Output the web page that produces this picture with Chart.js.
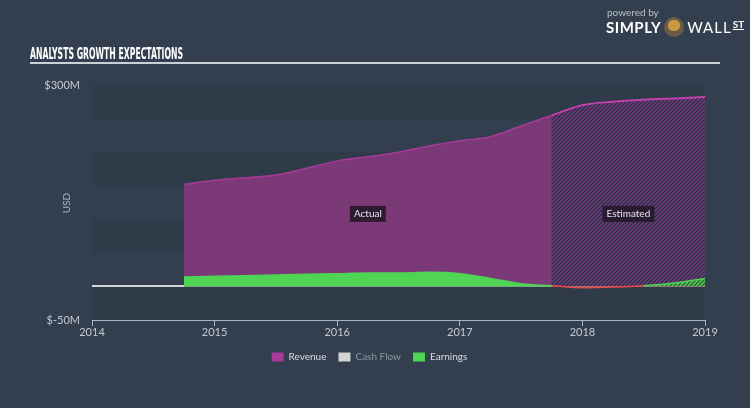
<!DOCTYPE html>
<html>
<head>
<meta charset="utf-8">
<script src="https://cdn.jsdelivr.net/npm/chart.js@4/dist/chart.umd.min.js"></script>
<style>
  html, body { margin: 0; padding: 0; background: #333f4e; }
  #wrap { position: relative; width: 750px; height: 408px; overflow: hidden; font-family: Lato, sans-serif; }
  #chart { position: absolute; left: 0; top: 0; }
  #title { position: absolute; left: 30px; top: 44px; color: #fff; white-space: nowrap;
           font: bold 16px 'Liberation Sans Narrow', 'DejaVu Sans Condensed', sans-serif; transform-origin: left top; }
  #rule { position: absolute; left: 30px; top: 62px; width: 690px; height: 2px; background: #c9d1d9; }
  #usd { position: absolute; left: 52px; top: 197px; width: 28px; text-align: center; color: #aab3bd; font-size: 10px;
         transform: rotate(-90deg); }
  #logo { position: absolute; left: 606px; top: 6px; color: #fff; }
  #logo .pb { font-size: 10px; color: #b9c1ca; margin-left: 1px; }
  #logo .row { display: flex; align-items: center; margin-top: -1px; }
  #logo .s { font-weight: bold; font-size: 15px; letter-spacing: 0.5px; }
  #logo .face { width: 20px; height: 20px; border-radius: 50%; background: #6b5a46; margin: 0 3px; position: relative; }
  #logo .face:after { content: ''; position: absolute; left: 4px; top: 3px; width: 12px; height: 11px; border-radius: 45%; background: #c99a44; }
  #logo .w { font-size: 15px; letter-spacing: 1px; }
  #logo .st { font-size: 10px; text-decoration: underline; font-weight: bold; margin-left: 1px; position: relative; top: -3px; }
</style>
</head>
<body>
<div id="wrap">
  <canvas id="chart" width="750" height="408"></canvas>
  <div id="title">ANALYSTS GROWTH EXPECTATIONS</div>
  <div id="rule"></div>
  <div id="usd">USD</div>
  <div id="logo">
    <div class="pb">powered by</div>
    <div class="row"><span class="s">SIMPLY</span><span class="face"></span><span class="w">WALL</span><span class="st">ST</span></div>
  </div>
</div>
<script>
// fit the condensed title to the reference width
const t = document.getElementById('title');
t.style.transform = 'scaleX(' + (153 / t.getBoundingClientRect().width) + ')';

// data (USD millions)
const years    = [2014.75, 2015, 2015.25, 2015.5, 2015.75, 2016, 2016.25, 2016.5, 2016.75, 2017, 2017.25, 2017.5, 2017.75, 2018, 2018.25, 2018.5, 2018.75, 2019];
const revenue  = [152, 158, 162, 166, 176, 187, 193, 200, 209, 217, 223, 239, 255, 270, 275, 278, 280, 282];
const earnings = [14, 15, 16, 17, 18, 19, 20, 20, 21, 19, 12, 4, 1, -2, -1, 1, 5, 12];
const cashFlow = [];
const estimateFrom = 2017.75;
const yTicksShown = [300, -50];

const pts = (vals, from, to) => years.map((x, i) => ({ x, y: vals[i] }))
  .filter(p => p.x >= from && p.x <= to);

function hatch(base, line, w) {
  const c = document.createElement('canvas');
  c.width = 4; c.height = 4;
  const g = c.getContext('2d');
  g.fillStyle = base; g.fillRect(0, 0, 4, 4);
  g.strokeStyle = line; g.lineWidth = w;
  g.beginPath();
  g.moveTo(0, 4); g.lineTo(4, 0);
  g.moveTo(-1, 1); g.lineTo(1, -1);
  g.moveTo(3, 5); g.lineTo(5, 3);
  g.stroke();
  return g.createPattern(c, 'repeat');
}

const purple = '#7b3a77';
const green = '#4fd454';
const revHatch = hatch('#8a3c86', '#2e324c', 1.8);
const earnHatch = hatch('#4fd454', '#2f5a3c', 1.3);

// alternating horizontal bands behind the plot
const bands = {
  id: 'bands',
  beforeDraw(chart) {
    const { ctx, chartArea: a, scales: { y } } = chart;
    ctx.save();
    ctx.fillStyle = '#2f3b49';
    for (let v = 300; v > -50; v -= 100) {
      const top = y.getPixelForValue(v), bot = y.getPixelForValue(v - 50);
      ctx.fillRect(a.left, top, a.right - a.left, bot - top);
    }
    ctx.fillRect(a.left, y.getPixelForValue(0), a.right - a.left, y.getPixelForValue(-50) - y.getPixelForValue(0));
    ctx.restore();
  }
};

// "Actual" / "Estimated" tags
const tags = {
  id: 'tags',
  afterDatasetsDraw(chart) {
    const { ctx, scales: { x, y } } = chart;
    const yy = y.getPixelForValue(108);
    const items = [
      ['Actual', (x.getPixelForValue(years[0]) + x.getPixelForValue(estimateFrom)) / 2],
      ['Estimated', (x.getPixelForValue(estimateFrom) + x.getPixelForValue(years[years.length - 1])) / 2]
    ];
    ctx.save();
    ctx.font = '10px Lato';
    ctx.textAlign = 'center';
    ctx.textBaseline = 'middle';
    items.forEach(([label, cx]) => {
      const w = ctx.measureText(label).width + 8;
      ctx.fillStyle = 'rgba(38,24,42,0.9)';
      ctx.fillRect(cx - w / 2, yy - 8, w, 16);
      ctx.fillStyle = '#e6e6ea';
      ctx.fillText(label, cx, yy);
    });
    ctx.restore();
  }
};

new Chart(document.getElementById('chart'), {
  type: 'line',
  data: {
    datasets: [
      { label: 'Revenue', data: pts(revenue, 0, estimateFrom), backgroundColor: purple, borderColor: '#a83a9a',
        borderWidth: 1.5, fill: 'origin', order: 3 },
      { label: 'Revenue est', data: pts(revenue, estimateFrom, 9999), backgroundColor: revHatch, borderColor: '#c23fae',
        borderWidth: 2, fill: 'origin', order: 3 },
      { label: 'Cash Flow', data: cashFlow, backgroundColor: '#d5d5d5', borderColor: '#d5d5d5', order: 2 },
      { label: 'Earnings', data: pts(earnings, 0, estimateFrom), backgroundColor: green, borderColor: green,
        borderWidth: 1.5, fill: 'origin', order: 1 },
      { label: 'Earnings est', data: pts(earnings, estimateFrom, 9999), borderColor: green,
        segment: { borderColor: c => (c.p0.parsed.y < 0 || c.p1.parsed.y < 0) ? '#e8474a' : green },
        fill: { target: 'origin', above: earnHatch, below: '#e8474a' }, borderWidth: 1.5, order: 1 }
    ]
  },
  options: {
    responsive: false,
    animation: false,
    events: [],
    elements: { point: { radius: 0 }, line: { tension: 0.4, cubicInterpolationMode: 'monotone' } },
    layout: { padding: { left: 34, right: 45, top: 85, bottom: 36 } },
    scales: {
      x: {
        type: 'linear', min: 2014, max: 2019,
        afterFit: s => { s.height = 20; },
        border: { display: true, color: '#a9b4c0', width: 1 },
        grid: { drawOnChartArea: false, drawTicks: true, tickLength: 6, color: '#a9b4c0' },
        ticks: { stepSize: 1, padding: 0, color: '#c3cad2', font: { family: 'Lato', size: 11 }, callback: v => String(v) }
      },
      y: {
        min: -50, max: 300,
        afterFit: s => { s.width = 58; },
        border: { display: false },
        grid: { drawTicks: false, lineWidth: 2, color: c => c.tick && c.tick.value === 0 ? '#cfd5db' : 'rgba(0,0,0,0)' },
        ticks: { stepSize: 50, padding: 12, color: '#c3cad2', font: { family: 'Lato', size: 11 },
                 callback: v => yTicksShown.includes(v) ? '$' + v + 'M' : '' }
      }
    },
    plugins: {
      tooltip: { enabled: false },
      legend: {
        position: 'bottom',
        labels: {
          boxWidth: 12, boxHeight: 9, padding: 12, color: '#d8dde2', font: { family: 'Lato', size: 10 },
          generateLabels: () => [
            { text: 'Revenue', fillStyle: '#a8399a', strokeStyle: '#a8399a', lineWidth: 0, datasetIndex: 0, fontColor: '#d8dde2' },
            { text: 'Cash Flow', fillStyle: '#d5d5d5', strokeStyle: '#d5d5d5', lineWidth: 0, datasetIndex: 2, fontColor: '#8f99a4' },
            { text: 'Earnings', fillStyle: green, strokeStyle: green, lineWidth: 0, datasetIndex: 3, fontColor: '#d8dde2' }
          ]
        }
      }
    }
  },
  plugins: [bands, tags]
});
</script>
</body>
</html>
